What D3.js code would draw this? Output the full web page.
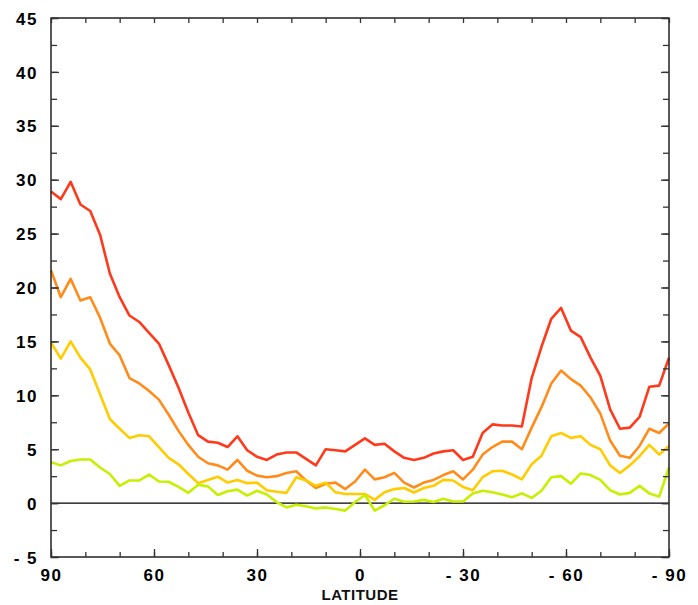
<!DOCTYPE html>
<html><head><meta charset="utf-8">
<script src="https://cdn.jsdelivr.net/npm/d3@7"></script>
<style>body{margin:0;background:#fff}svg{display:block}</style>
</head><body>
<script>
const nLat = 64;
const latitudes = d3.range(nLat).map(i => 90 - i * 180 / (nLat - 1));
const seriesRed = [28.9,28.2,29.8,27.7,27.1,24.9,21.3,19.1,17.4,16.8,15.8,14.8,12.8,10.7,8.4,6.3,5.7,5.6,5.2,6.2,4.9,4.3,4.0,4.5,4.7,4.7,4.1,3.5,5.0,4.9,4.8,5.4,6.0,5.4,5.5,4.8,4.2,4.0,4.2,4.6,4.8,4.9,4.0,4.3,6.5,7.3,7.2,7.2,7.1,11.6,14.5,17.1,18.1,16.0,15.4,13.5,11.8,8.7,6.9,7.0,8.0,10.8,10.9,13.5];
const seriesOrange = [21.6,19.1,20.8,18.8,19.1,17.2,14.8,13.7,11.6,11.1,10.4,9.6,8.2,6.7,5.4,4.3,3.7,3.5,3.1,4.0,3.0,2.55,2.4,2.5,2.8,2.95,2.1,1.4,1.8,1.9,1.3,2.0,3.1,2.2,2.4,2.8,1.9,1.45,1.9,2.15,2.6,2.95,2.2,3.1,4.5,5.2,5.7,5.7,5.0,7.0,8.9,11.1,12.3,11.5,10.9,9.8,8.3,5.8,4.4,4.2,5.3,6.9,6.5,7.4];
const seriesYellow = [14.9,13.4,15.0,13.5,12.4,10.1,7.8,6.9,6.05,6.3,6.2,5.2,4.2,3.6,2.7,1.85,2.15,2.45,1.9,2.15,1.85,1.9,1.2,1.05,0.95,2.4,2.1,1.6,1.9,1.0,0.85,0.85,0.85,0.3,1.0,1.3,1.4,0.98,1.4,1.6,2.15,2.1,1.5,1.2,2.4,2.95,3.0,2.65,2.2,3.6,4.4,6.2,6.5,6.05,6.2,5.4,5.0,3.5,2.8,3.5,4.35,5.4,4.5,5.3];
const seriesGreen = [3.8,3.5,3.9,4.05,4.05,3.3,2.7,1.6,2.1,2.1,2.65,2.0,1.98,1.5,0.95,1.7,1.55,0.75,1.1,1.25,0.7,1.15,0.8,0.1,-0.4,-0.15,-0.3,-0.5,-0.4,-0.55,-0.7,0.1,0.75,-0.7,-0.2,0.4,0.12,0.15,0.3,0.1,0.4,0.15,0.15,0.9,1.15,1.0,0.8,0.55,0.9,0.48,1.15,2.4,2.5,1.8,2.75,2.6,2.15,1.2,0.8,0.95,1.6,0.9,0.6,3.3];
const seriesNames = ["red","orange","yellow","green"];
const seriesColors = ["#ff3a1c","#ff8c1a","#ffcc00","#c6f000"];
const xTickLabels = [90,60,30,0,-30,-60,-90];
const yTickLabels = [-5,0,5,10,15,20,25,30,35,40,45];
const xTitle = "LATITUDE";

const W = 698, H = 605;
const m = {left:51, right:29, top:18, bottom:48};
const svg = d3.select("body").append("svg").attr("width",W).attr("height",H);
const x = d3.scaleLinear().domain([90,-90]).range([m.left, W - m.right]);
const y = d3.scaleLinear().domain([-5,45]).range([H - m.bottom, m.top]);

// zero line
svg.append("line").attr("x1",x(90)).attr("x2",x(-90)).attr("y1",y(0)).attr("y2",y(0))
  .attr("stroke","#000").attr("stroke-width",1.2);

const allSeries = [seriesRed, seriesOrange, seriesYellow, seriesGreen];
const line = d3.line().x((d,i)=>x(latitudes[i])).y(d=>y(d));
allSeries.forEach((s,k)=>{
  svg.append("path").datum(s).attr("d",line).attr("fill","none")
    .attr("stroke",seriesColors[k]).attr("stroke-width",2.6).attr("stroke-linejoin","round");
});

const tickFont = "Liberation Sans, Arial, sans-serif";
const fmt = d => d < 0 ? "- " + Math.abs(d) : String(d);
const xMinor = d3.range(90,-91,-10);
const yMinor = d3.range(-5,45.1,2.5);
svg.append("rect").attr("x",m.left).attr("y",m.top).attr("width",W-m.left-m.right).attr("height",H-m.top-m.bottom)
  .attr("fill","none").attr("stroke","#222").attr("stroke-width",1.5);
const axB = svg.append("g").attr("transform",`translate(0,${y(-5)})`)
  .call(d3.axisBottom(x).tickValues(xMinor).tickSizeInner(-5).tickSizeOuter(0).tickFormat(""));
const axT = svg.append("g").attr("transform",`translate(0,${y(45)})`)
  .call(d3.axisTop(x).tickValues(xMinor).tickSizeInner(-5).tickSizeOuter(0).tickFormat(""));
const axBM = svg.append("g").attr("transform",`translate(0,${y(-5)})`)
  .call(d3.axisBottom(x).tickValues(xTickLabels).tickSizeInner(-8).tickSizeOuter(0).tickPadding(12)
    .tickFormat(fmt));
const axL = svg.append("g").attr("transform",`translate(${x(90)},0)`)
  .call(d3.axisLeft(y).tickValues(yMinor).tickSizeInner(-6).tickSizeOuter(0).tickFormat(""));
const axLM = svg.append("g").attr("transform",`translate(${x(90)},0)`)
  .call(d3.axisLeft(y).tickValues(yTickLabels).tickSizeInner(-8).tickSizeOuter(0).tickPadding(13)
    .tickFormat(fmt));
const axR = svg.append("g").attr("transform",`translate(${x(-90)},0)`)
  .call(d3.axisRight(y).tickValues(yMinor).tickSizeInner(-6).tickSizeOuter(0).tickFormat(""));
const axRM = svg.append("g").attr("transform",`translate(${x(-90)},0)`)
  .call(d3.axisRight(y).tickValues(yTickLabels).tickSizeInner(-8).tickSizeOuter(0).tickFormat(""));
[axB,axT,axBM,axL,axLM,axR,axRM].forEach(a=>{
  a.select(".domain").remove();
  a.selectAll(".tick line").attr("stroke","#333").attr("stroke-width",1.3);
  a.selectAll("text").attr("font-family",tickFont).attr("font-size",17).attr("font-weight","bold")
    .attr("fill","#000").attr("letter-spacing","1.5px");
});
axBM.selectAll("text").attr("dy","0.71em");
axLM.selectAll("text").attr("dy","0.36em");

svg.append("text").attr("x",(x(90)+x(-90))/2).attr("y",600).attr("text-anchor","middle")
  .attr("font-family",tickFont).attr("font-size",15).attr("font-weight","bold").attr("fill","#111")
  .attr("letter-spacing","0.5px")
  .text(xTitle);
</script>
</body></html>
